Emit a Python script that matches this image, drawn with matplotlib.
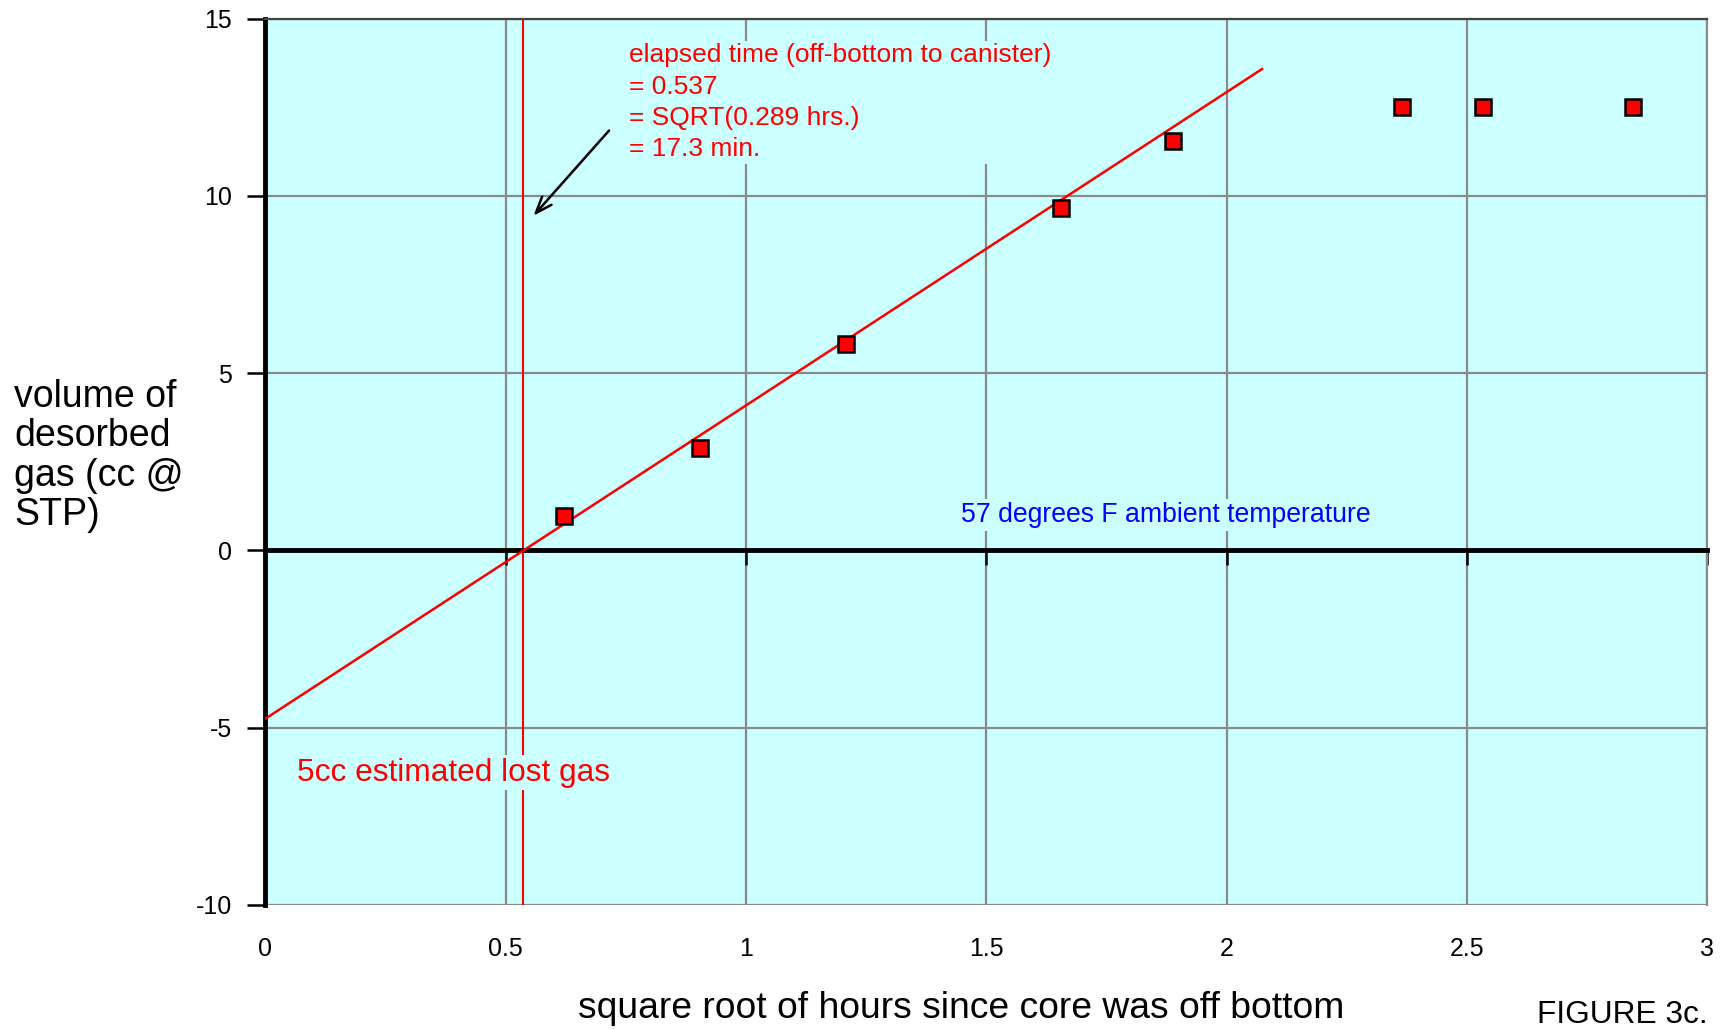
import matplotlib

matplotlib.use("Agg")
import matplotlib.pyplot as plt

plt.rcParams["font.family"] = ["Liberation Sans", "DejaVu Sans"]
plt.rcParams["axes.unicode_minus"] = False

# measured desorption points (sqrt hours, cc @ STP)
sqrt_hours = [0.622, 0.905, 1.209, 1.656, 1.889, 2.366, 2.534, 2.846]
volume_cc = [0.97, 2.89, 5.81, 9.66, 11.55, 12.52, 12.52, 12.52]

# straight-line extrapolation back to time zero
fit_x = [0.0, 2.074]
fit_y = [-4.75, 13.58]
elapsed_sqrt = 0.537

x_ticks = [0, 0.5, 1, 1.5, 2, 2.5, 3]
x_ticklabels = ["0", "0.5", "1", "1.5", "2", "2.5", "3"]
y_ticks = [-10, -5, 0, 5, 10, 15]
XMIN, XMAX = 0, 3
YMIN, YMAX = -10, 15

CYAN = "#ccffff"
RED = "#ff0000"
GRID = "#8a8a8a"

fig = plt.figure(figsize=(17.26, 10.30), dpi=100, facecolor="white")
ax = fig.add_axes([0.1537, 0.1215, 0.8354, 0.8604])
ax.set_facecolor(CYAN)
ax.set_xlim(XMIN, XMAX)
ax.set_ylim(YMIN, YMAX)

ax.set_xticks(x_ticks)
ax.set_yticks(y_ticks)
ax.grid(True, color=GRID, lw=1.6, zorder=0)
ax.set_axisbelow(True)

# zero line carries the x ticks, labels sit below the frame
ax.spines["bottom"].set_position(("data", 0))
ax.spines["bottom"].set_linewidth(3.5)
ax.spines["bottom"].set_color("black")
ax.spines["left"].set_linewidth(3.5)
ax.spines["left"].set_color("black")
ax.spines["top"].set_color("#444444")
ax.spines["top"].set_linewidth(1.6)
ax.spines["right"].set_color(GRID)
ax.spines["right"].set_linewidth(1.6)
ax.tick_params(axis="x", length=11, width=1.8, direction="out",
               labelbottom=False, color="black")
ax.tick_params(axis="y", length=13, width=1.8, direction="out", pad=11,
               labelsize=18, color="black")

sec = ax.secondary_xaxis("bottom")
sec.set_xticks(x_ticks, x_ticklabels)
sec.tick_params(length=0, pad=23, labelsize=18)
sec.spines["bottom"].set_visible(False)

ax.axvline(elapsed_sqrt, color=RED, lw=1.5, zorder=2)
ax.plot(fit_x, fit_y, color=RED, lw=1.8, zorder=3)
ax.plot(sqrt_hours, volume_cc, ls="none", marker="s", markersize=12,
        markerfacecolor=RED, markeredgecolor="black", markeredgewidth=1.8,
        zorder=4)

box = dict(facecolor=CYAN, edgecolor="none", pad=2)
ax.text(0.756, 14.3,
        "elapsed time (off-bottom to canister)\n= 0.537\n= SQRT(0.289 hrs.)\n= 17.3 min.",
        color=RED, fontsize=19, ha="left", va="top", linespacing=1.38,
        bbox=box, zorder=5)
ax.annotate("", xy=(0.554, 9.38), xytext=(0.719, 11.9),
            arrowprops=dict(arrowstyle="->,head_length=1.2,head_width=0.45",
                            color="black", lw=1.8),
            zorder=5)
ax.text(1.447, 1.0, "57 degrees F ambient temperature", color="#0000ff",
        fontsize=19.2, ha="left", va="center", bbox=box, zorder=5)
ax.text(0.066, -6.27, "5cc estimated lost gas", color=RED, fontsize=22.8,
        ha="left", va="center", bbox=box, zorder=5)

ax.set_xlabel("square root of hours since core was off bottom", fontsize=26.8)
ax.xaxis.set_label_coords(0.4825, -0.1175)
ax.xaxis.label.set_va("center")

ax.set_ylabel("volume of\ndesorbed\ngas (cc @\nSTP)", fontsize=27,
              rotation=0, ha="left", va="center", linespacing=1.12)
ax.yaxis.set_label_coords(-0.1743, 0.5066)

fig.text(0.9895, 0.0146, "FIGURE 3c.", fontsize=22.8, ha="right", va="center")

fig.savefig("out.png", dpi=100, facecolor="white")
